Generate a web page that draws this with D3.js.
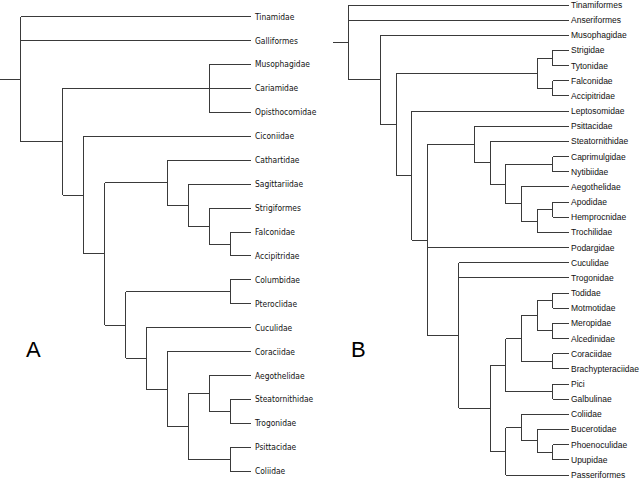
<!DOCTYPE html>
<html>
<head>
<meta charset="utf-8">
<script src="https://cdn.jsdelivr.net/npm/d3@7"></script>
<style>
  html, body { margin: 0; padding: 0; background: #fff; }
  svg { display: block; }
</style>
</head>
<body>
<svg id="chart" width="640" height="480"></svg>
<script>
// ---------- DATA (Newick clades, branch lengths in depth units) ----------
// Tree A
const A_falconAcc   = "(Falconidae:1,Accipitridae:1)";
const A_raptors     = "(Cathartidae:4,(Sagittariidae:3,(Strigiformes:2," + A_falconAcc + ":1):1):1)";
const A_pigeons     = "(Columbidae:1,Pteroclidae:1)";
const A_coraciae    = "(Coraciidae:4,((Aegothelidae:2,(Steatornithidae:1,Trogonidae:1):1):1,(Psittacidae:1,Coliidae:1):2):1)";
const A_lower       = "(" + A_pigeons + ":5,(Cuculidae:5," + A_coraciae + ":1):1)";
const A_turacos     = "(Musophagidae:2,Cariamidae:2,Opisthocomidae:2)";
const A_core        = "(" + A_turacos + ":7,(Ciconiidae:8,(" + A_raptors + ":3," + A_lower + ":1):1):1)";
const treeA_newick  = "(Tinamidae:11,Galliformes:11," + A_core + ":2):1;";

// Tree B
const B_owlsFalcons = "((Strigidae:1,Tytonidae:1):1,(Falconidae:1,Accipitridae:1):1)";
const B_apodiform   = "(Psittacidae:6,(Steatornithidae:5,((Caprimulgidae:1,Nytibiidae:1):3,(Aegothelidae:3,((Apodidae:1,Hemprocnidae:1):1,Trochilidae:2):1):1):1):1)";
const B_coracii     = "((((Todidae:1,Motmotidae:1):1,(Meropidae:1,Alcedinidae:1):1):1,(Coraciidae:1,Brachypteraciidae:1):2):1,(Pici:1,Galbulinae:1):3)";
const B_passer      = "((Coliidae:3,(Bucerotidae:2,(Phoenoculidae:1,Upupidae:1):1):1):1,Passeriformes:4)";
const B_landbirds   = "(Cuculidae:7,Trogonidae:7,(" + B_coracii + ":1," + B_passer + ":1):2)";
const B_inner       = "(Leptosomidae:10,(" + B_apodiform + ":3,Podargidae:9," + B_landbirds + ":2):1)";
const B_core        = "(Musophagidae:12,(" + B_owlsFalcons + ":9," + B_inner + ":1):1)";
const treeB_newick  = "(Tinamiformes:14,Anseriformes:14," + B_core + ":2):1;";

const panelLabels = ["A", "B"];

// ---------- Newick parser ----------
function parseNewick(s) {
  let i = 0;
  function node() {
    const n = { children: null, name: "", length: 0 };
    if (s[i] === "(") {
      n.children = [];
      i++;
      n.children.push(node());
      while (s[i] === ",") { i++; n.children.push(node()); }
      i++; // ')'
    }
    let name = "";
    while (i < s.length && !",():;".includes(s[i])) name += s[i++];
    n.name = name.trim();
    if (s[i] === ":") {
      i++;
      let num = "";
      while (i < s.length && !",();".includes(s[i])) num += s[i++];
      n.length = +num;
    }
    return n;
  }
  return node();
}

const svg = d3.select("#chart");

function drawTree(newick, opt) {
  const root = d3.hierarchy(parseNewick(newick), d => d.children);
  root.eachBefore(d => { d.dist = (d.parent ? d.parent.dist : 0) + d.data.length; });
  const leaves = root.leaves();
  const maxDist = d3.max(leaves, d => d.dist);
  const x = d3.scaleLinear().domain([0, maxDist]).range(opt.xRange);
  const y = d3.scalePoint().domain(leaves.map(d => d.data.name)).range(opt.yRange);
  root.eachAfter(d => {
    if (!d.children) d.yy = y(d.data.name);
    else d.yy = (d.children[0].yy + d.children[d.children.length - 1].yy) / 2;
  });

  const g = svg.append("g");
  const line = (x1, y1, x2, y2) => g.append("line")
    .attr("x1", x1).attr("y1", y1).attr("x2", x2).attr("y2", y2)
    .attr("stroke", "#3a3a3a").attr("stroke-width", 1)
    .attr("shape-rendering", "crispEdges");

  root.each(d => {
    const x0 = d.parent ? x(d.parent.dist) : x(0);
    line(x0, d.yy, x(d.dist), d.yy);
    if (d.children) {
      line(x(d.dist), d.children[0].yy, x(d.dist), d.children[d.children.length - 1].yy);
    }
  });

  g.selectAll("text.leaf").data(leaves).join("text")
    .attr("class", "leaf")
    .attr("x", d => x(d.dist) + opt.labelGap)
    .attr("y", d => d.yy)
    .attr("dy", "0.35em")
    .attr("font-family", opt.font)
    .attr("font-size", opt.fontSize)
    .attr("fill", "#111")
    .text(d => d.data.name);
}

drawTree(treeA_newick, {
  xRange: [0, 251], yRange: [16.7, 471.3], labelGap: 4,
  font: "'Liberation Sans Narrow', 'Arial Narrow', 'DejaVu Sans Condensed', sans-serif", fontSize: 8.4
});
drawTree(treeB_newick, {
  xRange: [333.3, 568.5], yRange: [5, 475], labelGap: 2.5,
  font: "'Liberation Sans', Arial, sans-serif", fontSize: 8.5
});

svg.selectAll("text.panel").data(panelLabels).join("text")
  .attr("class", "panel")
  .attr("x", (d, i) => i === 0 ? 26 : 351)
  .attr("y", 357)
  .attr("font-family", "'Liberation Sans', Arial, sans-serif")
  .attr("font-size", 22)
  .attr("fill", "#000")
  .text(d => d);
</script>
</body>
</html>
